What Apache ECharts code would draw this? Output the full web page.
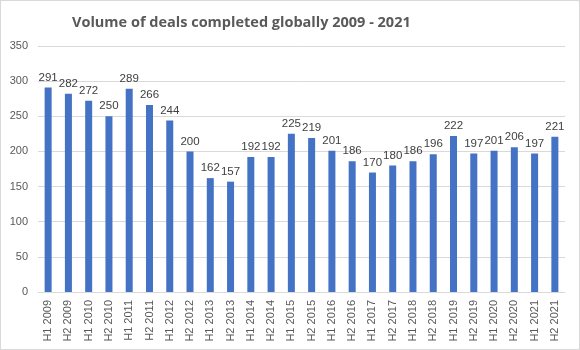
<!DOCTYPE html>
<html>
<head>
<meta charset="utf-8">
<script src="https://cdn.jsdelivr.net/npm/echarts@6/dist/echarts.min.js"></script>
<style>
    html, body { margin: 0; padding: 0; background: #fff; }
    #chart { width: 578px; height: 348px; border: 1px solid #d9d9d9; }
</style>
</head>
<body>
<div id="chart"></div>
<script>
    var periods = ['H1 2009', 'H2 2009', 'H1 2010', 'H2 2010', 'H1 2011', 'H2 2011', 'H1 2012', 'H2 2012',
        'H1 2013', 'H2 2013', 'H1 2014', 'H2 2014', 'H1 2015', 'H2 2015', 'H1 2016', 'H2 2016',
        'H1 2017', 'H2 2017', 'H1 2018', 'H2 2018', 'H1 2019', 'H2 2019', 'H1 2020', 'H2 2020',
        'H1 2021', 'H2 2021'];
    var deals = [291, 282, 272, 250, 289, 266, 244, 200, 162, 157, 192, 192, 225, 219, 201, 186,
        170, 180, 186, 196, 222, 197, 201, 206, 197, 221];

    var myChart = echarts.init(document.getElementById('chart'));
    var option = {
        animation: false,
        title: {
            text: 'Volume of deals completed globally 2009 - 2021',
            left: 66,
            top: 9,
            textStyle: {
                fontFamily: 'Open Sans',
                fontSize: 14.5,
                fontWeight: 'bold',
                color: '#595959'
            }
        },
        grid: {
            left: 37,
            right: 14,
            top: 45,
            bottom: 57
        },
        xAxis: {
            type: 'category',
            data: periods,
            axisLine: { lineStyle: { color: '#d9d9d9' } },
            axisTick: { show: false },
            axisLabel: {
                rotate: 90,
                interval: 0,
                margin: 8,
                fontFamily: 'Liberation Sans',
                fontSize: 11,
                color: '#595959'
            }
        },
        yAxis: {
            type: 'value',
            min: 0,
            max: 350,
            interval: 50,
            axisLine: { show: false },
            axisTick: { show: false },
            splitLine: { lineStyle: { color: '#d9d9d9' } },
            axisLabel: {
                margin: 10,
                fontFamily: 'Liberation Sans',
                fontSize: 11,
                color: '#595959'
            }
        },
        series: [
            {
                type: 'bar',
                data: deals,
                barWidth: 7,
                itemStyle: { color: '#4472C4' },
                label: {
                    show: true,
                    position: 'top',
                    distance: 4,
                    fontFamily: 'Liberation Sans',
                    fontSize: 11.5,
                    color: '#404040'
                }
            }
        ]
    };
    myChart.setOption(option);
</script>
</body>
</html>
